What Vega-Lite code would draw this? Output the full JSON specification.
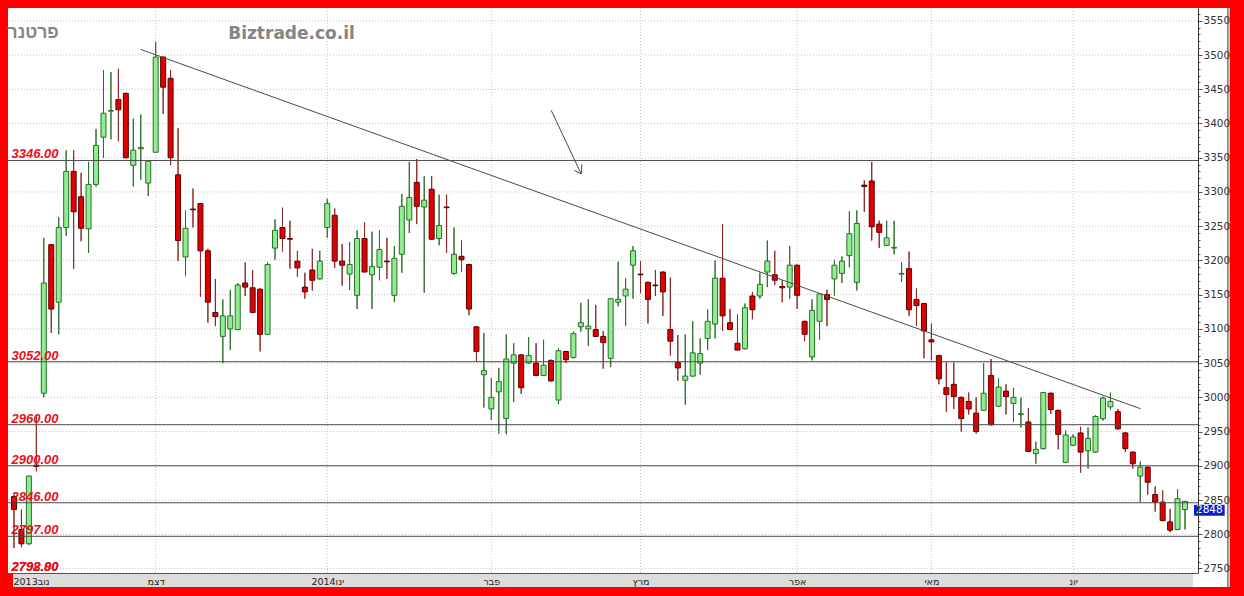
{
  "$schema": "https://vega.github.io/schema/vega-lite/v6.json",
  "width": 1190,
  "height": 565,
  "autosize": {"type": "none"},
  "padding": {"left": 8, "top": 8, "right": 46, "bottom": 23},
  "background": "#ff0000",
  "config": {
    "view": {"stroke": null, "fill": "white"},
    "font": "DejaVu Sans"
  },
  "resolve": {"axis": {"x": "independent", "y": "independent"}},
  "datasets": {
    "candles": [
      {"i":0,"o":2855,"h":2858,"l":2780,"c":2836},
      {"i":1,"o":2807,"h":2836,"l":2781,"c":2786},
      {"i":2,"o":2786,"h":2886,"l":2785,"c":2885},
      {"i":3,"o":2901,"h":2972,"l":2892,"c":2899},
      {"i":4,"o":3006,"h":3233,"l":3000,"c":3167},
      {"i":5,"o":3223,"h":3224,"l":3094,"c":3129},
      {"i":6,"o":3139,"h":3263,"l":3092,"c":3248},
      {"i":7,"o":3248,"h":3361,"l":3236,"c":3330},
      {"i":8,"o":3330,"h":3361,"l":3188,"c":3271},
      {"i":9,"o":3293,"h":3328,"l":3228,"c":3247},
      {"i":10,"o":3246,"h":3344,"l":3211,"c":3311},
      {"i":11,"o":3311,"h":3392,"l":3308,"c":3368},
      {"i":12,"o":3380,"h":3478,"l":3350,"c":3415},
      {"i":13,"o":3418,"h":3475,"l":3377,"c":3419},
      {"i":14,"o":3435,"h":3480,"l":3374,"c":3420},
      {"i":15,"o":3444,"h":3445,"l":3349,"c":3350},
      {"i":16,"o":3339,"h":3407,"l":3308,"c":3361},
      {"i":17,"o":3363,"h":3413,"l":3318,"c":3365},
      {"i":18,"o":3313,"h":3346,"l":3294,"c":3345},
      {"i":19,"o":3358,"h":3519,"l":3357,"c":3497},
      {"i":20,"o":3497,"h":3498,"l":3414,"c":3453},
      {"i":21,"o":3466,"h":3478,"l":3339,"c":3350},
      {"i":22,"o":3325,"h":3393,"l":3199,"c":3229},
      {"i":23,"o":3205,"h":3273,"l":3177,"c":3247},
      {"i":24,"o":3275,"h":3305,"l":3248,"c":3274},
      {"i":25,"o":3283,"h":3284,"l":3147,"c":3214},
      {"i":26,"o":3214,"h":3217,"l":3109,"c":3139},
      {"i":27,"o":3124,"h":3173,"l":3104,"c":3118},
      {"i":28,"o":3089,"h":3143,"l":3050,"c":3119},
      {"i":29,"o":3100,"h":3157,"l":3069,"c":3119},
      {"i":30,"o":3099,"h":3167,"l":3098,"c":3164},
      {"i":31,"o":3167,"h":3197,"l":3148,"c":3161},
      {"i":32,"o":3160,"h":3186,"l":3123,"c":3124},
      {"i":33,"o":3158,"h":3159,"l":3067,"c":3092},
      {"i":34,"o":3092,"h":3197,"l":3091,"c":3194},
      {"i":35,"o":3218,"h":3260,"l":3201,"c":3244},
      {"i":36,"o":3248,"h":3277,"l":3213,"c":3232},
      {"i":37,"o":3232,"h":3258,"l":3188,"c":3231},
      {"i":38,"o":3199,"h":3214,"l":3176,"c":3189},
      {"i":39,"o":3161,"h":3182,"l":3144,"c":3154},
      {"i":40,"o":3186,"h":3217,"l":3156,"c":3171},
      {"i":41,"o":3173,"h":3214,"l":3172,"c":3199},
      {"i":42,"o":3248,"h":3290,"l":3233,"c":3283},
      {"i":43,"o":3266,"h":3276,"l":3189,"c":3199},
      {"i":44,"o":3199,"h":3224,"l":3163,"c":3193},
      {"i":45,"o":3180,"h":3227,"l":3157,"c":3194},
      {"i":46,"o":3149,"h":3244,"l":3129,"c":3232},
      {"i":47,"o":3232,"h":3256,"l":3183,"c":3183},
      {"i":48,"o":3179,"h":3242,"l":3129,"c":3191},
      {"i":49,"o":3190,"h":3244,"l":3171,"c":3216},
      {"i":50,"o":3199,"h":3233,"l":3173,"c":3198},
      {"i":51,"o":3149,"h":3221,"l":3139,"c":3203},
      {"i":52,"o":3209,"h":3297,"l":3182,"c":3279},
      {"i":53,"o":3259,"h":3344,"l":3240,"c":3292},
      {"i":54,"o":3314,"h":3348,"l":3253,"c":3279},
      {"i":55,"o":3278,"h":3323,"l":3153,"c":3288},
      {"i":56,"o":3304,"h":3323,"l":3230,"c":3231},
      {"i":57,"o":3232,"h":3296,"l":3222,"c":3251},
      {"i":58,"o":3278,"h":3296,"l":3211,"c":3277},
      {"i":59,"o":3181,"h":3248,"l":3179,"c":3209},
      {"i":60,"o":3206,"h":3229,"l":3183,"c":3201},
      {"i":61,"o":3194,"h":3195,"l":3120,"c":3129},
      {"i":62,"o":3103,"h":3104,"l":3052,"c":3067},
      {"i":63,"o":3033,"h":3094,"l":2985,"c":3039},
      {"i":64,"o":2983,"h":3028,"l":2967,"c":3000},
      {"i":65,"o":3008,"h":3043,"l":2947,"c":3023},
      {"i":66,"o":2969,"h":3092,"l":2946,"c":3056},
      {"i":67,"o":3050,"h":3079,"l":2993,"c":3062},
      {"i":68,"o":3062,"h":3063,"l":3005,"c":3014},
      {"i":69,"o":3050,"h":3088,"l":3049,"c":3061},
      {"i":70,"o":3050,"h":3079,"l":3031,"c":3032},
      {"i":71,"o":3032,"h":3084,"l":3031,"c":3047},
      {"i":72,"o":3054,"h":3055,"l":3023,"c":3024},
      {"i":73,"o":2996,"h":3072,"l":2990,"c":3068},
      {"i":74,"o":3067,"h":3068,"l":3050,"c":3055},
      {"i":75,"o":3058,"h":3096,"l":3057,"c":3093},
      {"i":76,"o":3103,"h":3138,"l":3096,"c":3109},
      {"i":77,"o":3100,"h":3143,"l":3075,"c":3104},
      {"i":78,"o":3099,"h":3135,"l":3088,"c":3089},
      {"i":79,"o":3089,"h":3097,"l":3042,"c":3080},
      {"i":80,"o":3057,"h":3145,"l":3044,"c":3144},
      {"i":81,"o":3139,"h":3198,"l":3133,"c":3143},
      {"i":82,"o":3148,"h":3174,"l":3104,"c":3158},
      {"i":83,"o":3193,"h":3221,"l":3144,"c":3214},
      {"i":84,"o":3180,"h":3199,"l":3152,"c":3179},
      {"i":85,"o":3168,"h":3169,"l":3108,"c":3143},
      {"i":86,"o":3164,"h":3186,"l":3148,"c":3163},
      {"i":87,"o":3183,"h":3184,"l":3119,"c":3154},
      {"i":88,"o":3099,"h":3175,"l":3061,"c":3082},
      {"i":89,"o":3051,"h":3091,"l":3024,"c":3043},
      {"i":90,"o":3025,"h":3092,"l":2989,"c":3031},
      {"i":91,"o":3031,"h":3111,"l":3030,"c":3065},
      {"i":92,"o":3050,"h":3086,"l":3033,"c":3064},
      {"i":93,"o":3086,"h":3128,"l":3069,"c":3111},
      {"i":94,"o":3107,"h":3200,"l":3086,"c":3174},
      {"i":95,"o":3174,"h":3253,"l":3097,"c":3119},
      {"i":96,"o":3109,"h":3129,"l":3099,"c":3099},
      {"i":97,"o":3079,"h":3121,"l":3069,"c":3069},
      {"i":98,"o":3071,"h":3137,"l":3070,"c":3131},
      {"i":99,"o":3148,"h":3154,"l":3114,"c":3128},
      {"i":100,"o":3148,"h":3182,"l":3144,"c":3165},
      {"i":101,"o":3183,"h":3229,"l":3161,"c":3199},
      {"i":102,"o":3179,"h":3214,"l":3164,"c":3171},
      {"i":103,"o":3162,"h":3171,"l":3139,"c":3160},
      {"i":104,"o":3161,"h":3221,"l":3144,"c":3193},
      {"i":105,"o":3193,"h":3194,"l":3129,"c":3149},
      {"i":106,"o":3111,"h":3112,"l":3082,"c":3092},
      {"i":107,"o":3059,"h":3143,"l":3054,"c":3127},
      {"i":108,"o":3111,"h":3151,"l":3084,"c":3151},
      {"i":109,"o":3150,"h":3157,"l":3104,"c":3143},
      {"i":110,"o":3173,"h":3201,"l":3148,"c":3193},
      {"i":111,"o":3181,"h":3206,"l":3167,"c":3199},
      {"i":112,"o":3207,"h":3272,"l":3190,"c":3239},
      {"i":113,"o":3168,"h":3273,"l":3156,"c":3254},
      {"i":114,"o":3310,"h":3317,"l":3271,"c":3308},
      {"i":115,"o":3316,"h":3344,"l":3229,"c":3249},
      {"i":116,"o":3253,"h":3258,"l":3218,"c":3241},
      {"i":117,"o":3222,"h":3258,"l":3221,"c":3233},
      {"i":118,"o":3218,"h":3258,"l":3209,"c":3219},
      {"i":119,"o":3180,"h":3197,"l":3169,"c":3181},
      {"i":120,"o":3188,"h":3213,"l":3119,"c":3128},
      {"i":121,"o":3143,"h":3159,"l":3104,"c":3134},
      {"i":122,"o":3137,"h":3138,"l":3057,"c":3097},
      {"i":123,"o":3084,"h":3108,"l":3054,"c":3081},
      {"i":124,"o":3061,"h":3062,"l":3019,"c":3027},
      {"i":125,"o":3014,"h":3051,"l":2979,"c":3004},
      {"i":126,"o":3019,"h":3051,"l":2983,"c":3001},
      {"i":127,"o":3000,"h":3001,"l":2950,"c":2969},
      {"i":128,"o":2994,"h":3007,"l":2975,"c":2983},
      {"i":129,"o":2977,"h":3000,"l":2947,"c":2950},
      {"i":130,"o":2981,"h":3050,"l":2980,"c":3006},
      {"i":131,"o":3032,"h":3056,"l":2959,"c":2960},
      {"i":132,"o":2987,"h":3028,"l":2986,"c":3015},
      {"i":133,"o":3009,"h":3019,"l":2975,"c":3001},
      {"i":134,"o":2991,"h":3014,"l":2964,"c":3000},
      {"i":135,"o":2975,"h":3000,"l":2956,"c":2976},
      {"i":136,"o":2964,"h":2984,"l":2920,"c":2921},
      {"i":137,"o":2918,"h":2935,"l":2903,"c":2924},
      {"i":138,"o":2925,"h":3008,"l":2924,"c":3007},
      {"i":139,"o":3006,"h":3007,"l":2976,"c":2982},
      {"i":140,"o":2981,"h":2982,"l":2924,"c":2946},
      {"i":141,"o":2905,"h":2952,"l":2904,"c":2945},
      {"i":142,"o":2930,"h":2946,"l":2929,"c":2942},
      {"i":143,"o":2948,"h":2957,"l":2890,"c":2920},
      {"i":144,"o":2922,"h":2956,"l":2896,"c":2940},
      {"i":145,"o":2920,"h":2974,"l":2919,"c":2972},
      {"i":146,"o":2969,"h":3001,"l":2966,"c":2999},
      {"i":147,"o":2986,"h":3007,"l":2982,"c":2994},
      {"i":148,"o":2979,"h":2983,"l":2953,"c":2954},
      {"i":149,"o":2948,"h":2949,"l":2920,"c":2925},
      {"i":150,"o":2920,"h":2921,"l":2896,"c":2903},
      {"i":151,"o":2885,"h":2906,"l":2847,"c":2898},
      {"i":152,"o":2898,"h":2899,"l":2858,"c":2876},
      {"i":153,"o":2858,"h":2870,"l":2833,"c":2847},
      {"i":154,"o":2847,"h":2864,"l":2819,"c":2820},
      {"i":155,"o":2818,"h":2837,"l":2803,"c":2806},
      {"i":156,"o":2807,"h":2866,"l":2806,"c":2852},
      {"i":157,"o":2836,"h":2848,"l":2807,"c":2848}
    ],
    "levels": [
      {"v":3346,"t":"3346.00"},
      {"v":3052,"t":"3052.00"},
      {"v":2960,"t":"2960.00"},
      {"v":2900,"t":"2900.00"},
      {"v":2846,"t":"2846.00"},
      {"v":2797,"t":"2797.00"}
    ],
    "lowlabels": [
      {"v":2746,"t":"2798.00"},
      {"v":2746,"t":"2792.80"}
    ],
    "gridy": [
      {"v":2750},{"v":2800},{"v":2850},{"v":2900},{"v":2950},{"v":3000},{"v":3050},{"v":3100},{"v":3150},
      {"v":3200},{"v":3250},{"v":3300},{"v":3350},{"v":3400},{"v":3450},{"v":3500},{"v":3550}
    ],
    "gridx": [
      {"v":19},{"v":42},{"v":64},{"v":84},{"v":105},{"v":123},{"v":142}
    ],
    "drawings": [
      {"x":16.98,"y":3508.2,"x2":151.03,"y2":2983.4},
      {"x":72.02,"y":3419.3,"x2":76.05,"y2":3326.2},
      {"x":76.05,"y":3326.2,"x2":75.12,"y2":3331.6},
      {"x":76.05,"y":3326.2,"x2":76.14,"y2":3340.4}
    ]
  },
  "layer": [
    {
      "data": {"name": "candles"},
      "mark": {"type": "rule", "strokeWidth": 1},
      "encoding": {
        "x": {
          "field": "i", "type": "quantitative", "title": null,
          "scale": {"domain": [-0.13, 158.07], "nice": false, "zero": false},
          "axis": {
            "orient": "bottom", "title": null, "grid": false, "zindex": 1,
            "values": [-0.13, 19, 42, 64, 84, 105, 123, 142],
            "labelExpr": "datum.value < 0 ? '2013נוב' : datum.value == 19 ? 'דצמ' : datum.value == 42 ? '2014ינו' : datum.value == 64 ? 'פבר' : datum.value == 84 ? 'מרץ' : datum.value == 105 ? 'אפר' : datum.value == 123 ? 'מאי' : 'יונ'",
            "labelAlign": {"condition": {"test": "datum.value < 0", "value": "left"}, "value": "center"},
            "labelFlush": false, "labelOverlap": false, "labelBound": false,
            "labelFont": "DejaVu Sans", "labelFontSize": 9.5, "labelColor": "#222",
            "labelPadding": 3, "ticks": false, "tickSize": 0,
            "domain": true, "domainColor": "#555", "domainWidth": 1
          }
        },
        "y": {
          "field": "l", "type": "quantitative", "title": null,
          "scale": {"domain": [2743.4, 3568.7], "nice": false, "zero": false},
          "axis": {
            "orient": "right", "title": null, "grid": false, "zindex": 1,
            "values": [2750, 2760, 2770, 2780, 2790, 2800, 2810, 2820, 2830, 2840, 2850, 2860, 2870, 2880, 2890, 2900, 2910, 2920, 2930, 2940, 2950, 2960, 2970, 2980, 2990, 3000, 3010, 3020, 3030, 3040, 3050, 3060, 3070, 3080, 3090, 3100, 3110, 3120, 3130, 3140, 3150, 3160, 3170, 3180, 3190, 3200, 3210, 3220, 3230, 3240, 3250, 3260, 3270, 3280, 3290, 3300, 3310, 3320, 3330, 3340, 3350, 3360, 3370, 3380, 3390, 3400, 3410, 3420, 3430, 3440, 3450, 3460, 3470, 3480, 3490, 3500, 3510, 3520, 3530, 3540, 3550, 3560],
            "labelExpr": "datum.value % 50 == 0 ? format(datum.value, 'd') : ''",
            "labelFont": "DejaVu Sans", "labelFontSize": 10.5, "labelColor": "#333",
            "labelPadding": 1, "labelFlush": false, "labelOverlap": false, "labelBound": false,
            "ticks": true,
            "tickSize": {"condition": {"test": "datum.value % 50 == 0", "value": 4}, "value": 2},
            "tickColor": "#555",
            "domain": true, "domainColor": "#333", "domainWidth": 1
          }
        },
        "y2": {"field": "h"},
        "stroke": {"condition": {"test": "datum.c >= datum.o", "value": "#2f6f2f"}, "value": "#8b2a2a"}
      }
    },
    {
      "data": {"values": [{}]},
      "mark": {"type": "rect", "fill": "white"},
      "encoding": {
        "x": {"datum": 158.07, "type": "quantitative", "axis": null},
        "x2": {"datum": 162.99},
        "y": {"datum": 3568.7, "type": "quantitative", "axis": null},
        "y2": {"datum": 2722.95}
      }
    },
    {
      "data": {"values": [{}]},
      "mark": {"type": "rule", "stroke": "#333", "strokeWidth": 1},
      "encoding": {
        "x": {"datum": 162.75, "type": "quantitative", "axis": null},
        "y": {"datum": 3568.7, "type": "quantitative", "axis": null},
        "y2": {"datum": 2722.95}
      }
    },
    {
      "data": {"values": [{}]},
      "mark": {"type": "rect", "fill": "#dcdcdc"},
      "encoding": {
        "x": {"datum": -0.13, "type": "quantitative", "axis": null},
        "x2": {"datum": 158.07},
        "y": {"datum": 2743.4, "type": "quantitative", "axis": null},
        "y2": {"datum": 2722.95}
      }
    },
    {
      "data": {"name": "gridy"},
      "mark": {"type": "rule", "stroke": "#c4c4c4", "strokeWidth": 1, "strokeDash": [1, 2]},
      "encoding": {
        "y": {"field": "v", "type": "quantitative", "axis": null}
      }
    },
    {
      "data": {"name": "gridx"},
      "mark": {"type": "rule", "stroke": "#c4c4c4", "strokeWidth": 1, "strokeDash": [1, 2]},
      "encoding": {
        "x": {"field": "v", "type": "quantitative", "axis": null}
      }
    },
    {
      "data": {"name": "candles"},
      "mark": {"type": "rule", "strokeWidth": 1},
      "encoding": {
        "x": {"field": "i", "type": "quantitative", "axis": null},
        "y": {"field": "l", "type": "quantitative", "axis": null},
        "y2": {"field": "h"},
        "stroke": {"condition": {"test": "datum.c >= datum.o", "value": "#2f6f2f"}, "value": "#8b2a2a"}
      }
    },
    {
      "data": {"name": "candles"},
      "mark": {"type": "bar", "width": 5, "strokeWidth": 1},
      "encoding": {
        "x": {"field": "i", "type": "quantitative", "axis": null},
        "y": {"field": "o", "type": "quantitative", "axis": null},
        "y2": {"field": "c"},
        "fill": {"condition": {"test": "datum.c >= datum.o", "value": "#90ee90"}, "value": "#e00000"},
        "stroke": {"condition": {"test": "datum.c >= datum.o", "value": "#2a6e2a"}, "value": "#5a0000"}
      }
    },
    {
      "data": {"name": "levels"},
      "mark": {"type": "rule", "stroke": "#4a4a4a", "strokeWidth": 1},
      "encoding": {
        "y": {"field": "v", "type": "quantitative", "axis": null}
      }
    },
    {
      "data": {"name": "drawings"},
      "mark": {"type": "rule", "stroke": "#4a4a4a", "strokeWidth": 1},
      "encoding": {
        "x": {"field": "x", "type": "quantitative", "axis": null},
        "x2": {"field": "x2"},
        "y": {"field": "y", "type": "quantitative", "axis": null},
        "y2": {"field": "y2"}
      }
    },
    {
      "data": {"name": "levels"},
      "mark": {"type": "text", "align": "left", "baseline": "alphabetic", "dy": -2, "font": "Liberation Sans", "fontSize": 13, "fontWeight": "bold", "fontStyle": "italic", "fill": "#e8101a", "clip": true},
      "encoding": {
        "x": {"datum": -0.33, "type": "quantitative", "axis": null},
        "y": {"field": "v", "type": "quantitative", "axis": null},
        "text": {"field": "t"}
      }
    },
    {
      "data": {"name": "lowlabels"},
      "mark": {"type": "text", "align": "left", "baseline": "alphabetic", "font": "Liberation Sans", "fontSize": 13, "fontWeight": "bold", "fontStyle": "italic", "fill": "#e8101a", "clip": true},
      "encoding": {
        "x": {"datum": -0.33, "type": "quantitative", "axis": null},
        "y": {"field": "v", "type": "quantitative", "axis": null},
        "text": {"field": "t"}
      }
    },
    {
      "data": {"values": [{"t": "פרטנר"}]},
      "mark": {"type": "text", "align": "right", "baseline": "alphabetic", "font": "Liberation Sans", "fontSize": 17.5, "fontWeight": "bold", "fill": "#858585"},
      "encoding": {
        "x": {"datum": 6.0, "type": "quantitative", "axis": null},
        "y": {"datum": 3524.5, "type": "quantitative", "axis": null},
        "text": {"field": "t"}
      }
    },
    {
      "data": {"values": [{"t": "Biztrade.co.il"}]},
      "mark": {"type": "text", "align": "left", "baseline": "alphabetic", "font": "DejaVu Sans", "fontSize": 17, "fontWeight": "bold", "fill": "#858585"},
      "encoding": {
        "x": {"datum": 28.72, "type": "quantitative", "axis": null},
        "y": {"datum": 3522.7, "type": "quantitative", "axis": null},
        "text": {"field": "t"}
      }
    },
    {
      "data": {"values": [{"t": "2848"}]},
      "mark": {"type": "rect", "fill": "#0a1fd0"},
      "encoding": {
        "x": {"datum": 158.2, "type": "quantitative", "axis": null},
        "x2": {"datum": 162.32},
        "y": {"datum": 2843.0, "type": "quantitative", "axis": null},
        "y2": {"datum": 2827.0}
      }
    },
    {
      "data": {"values": [{"t": "2848"}]},
      "mark": {"type": "text", "align": "center", "baseline": "middle", "font": "DejaVu Sans", "fontSize": 10.5, "fill": "white"},
      "encoding": {
        "x": {"datum": 160.26, "type": "quantitative", "axis": null},
        "y": {"datum": 2835.0, "type": "quantitative", "axis": null},
        "text": {"field": "t"}
      }
    }
  ]
}
